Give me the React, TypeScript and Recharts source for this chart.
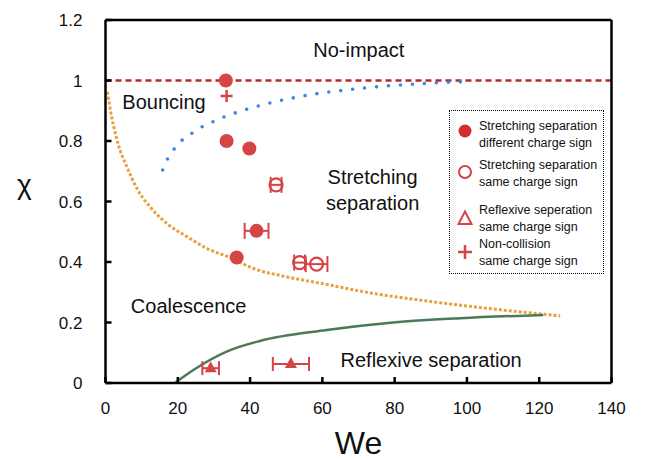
import React from "react";
import { ComposedChart, Line, Scatter, XAxis, YAxis, ErrorBar, ReferenceDot } from "recharts";

// axis ticks
const xTicks = [0, 20, 40, 60, 80, 100, 120, 140];
const yTicks = [0, 0.2, 0.4, 0.6, 0.8, 1, 1.2];

// boundary curves (We, chi)
const noImpactLine = [
  { we: 0, chi: 1 },
  { we: 140, chi: 1 },
];
const bouncingBoundary = [
  { we: 15.8, chi: 0.704 }, { we: 17.1, chi: 0.739 }, { we: 19.1, chi: 0.775 },
  { we: 21.5, chi: 0.806 }, { we: 24.5, chi: 0.83 }, { we: 27.5, chi: 0.852 },
  { we: 30.8, chi: 0.869 }, { we: 34, chi: 0.885 }, { we: 37.2, chi: 0.898 },
  { we: 43.9, chi: 0.921 }, { we: 50.9, chi: 0.94 }, { we: 57.7, chi: 0.955 },
  { we: 64.7, chi: 0.966 }, { we: 71.6, chi: 0.975 }, { we: 78.7, chi: 0.983 },
  { we: 85.6, chi: 0.988 }, { we: 92.6, chi: 0.993 }, { we: 99.5, chi: 0.996 },
];
const coalescenceBoundary = [
  { we: 0.5, chi: 0.963 }, { we: 1.7, chi: 0.88 }, { we: 3.5, chi: 0.79 },
  { we: 5.9, chi: 0.715 }, { we: 8.6, chi: 0.645 }, { we: 12.3, chi: 0.583 },
  { we: 16.9, chi: 0.528 }, { we: 22.5, chi: 0.484 }, { we: 28.9, chi: 0.44 },
  { we: 34, chi: 0.417 }, { we: 40.9, chi: 0.379 }, { we: 50.1, chi: 0.351 },
  { we: 59.4, chi: 0.33 }, { we: 73.2, chi: 0.298 }, { we: 87, chi: 0.274 },
  { we: 105.5, chi: 0.247 }, { we: 125.8, chi: 0.222 },
];
const reflexiveBoundary = [
  { we: 19.2, chi: 0 }, { we: 24.3, chi: 0.043 }, { we: 33.5, chi: 0.104 },
  { we: 42.7, chi: 0.139 }, { we: 61.2, chi: 0.175 }, { we: 79.6, chi: 0.2 },
  { we: 98.1, chi: 0.214 }, { we: 121.1, chi: 0.225 },
];

// measurements (err = horizontal error on We)
const stretchDiffSign = [
  { we: 33.3, chi: 1.0 },
  { we: 33.5, chi: 0.8 },
  { we: 39.8, chi: 0.775 },
  { we: 36.3, chi: 0.415 },
];
const stretchDiffSignErr = [{ we: 41.8, chi: 0.503, err: 3.3 }];
const stretchSameSign = [
  { we: 47.2, chi: 0.655, err: 1.5 },
  { we: 53.7, chi: 0.398, err: 1.5 },
  { we: 58.4, chi: 0.393, err: 3.0 },
];
const reflexiveSameSign = [
  { we: 29.1, chi: 0.049, err: 2.3 },
  { we: 51.3, chi: 0.063, err: 5.0 },
];
const nonCollision = [{ we: 33.5, chi: 0.949 }];

// region names
const regions = [
  { text: "No-impact", we: 70.1, chi: 1.1 },
  { text: "Bouncing", we: 16.2, chi: 0.93 },
  { text: "Stretching", we: 73.9, chi: 0.681 },
  { text: "separation", we: 73.9, chi: 0.595 },
  { text: "Coalescence", we: 23, chi: 0.255 },
  { text: "Reflexive separation", we: 90.1, chi: 0.076 },
];

const legendItems = [
  { marker: "filled", lines: ["Stretching separation", "different charge sign"] },
  { marker: "open", lines: ["Stretching separation", "same charge sign"] },
  { marker: "triangle", lines: ["Reflexive seperation", "same charge sign"] },
  { marker: "cross", lines: ["Non-collision", "same charge sign"] },
];

const RED = "#d64545";
const FONT = "'Liberation Sans', Arial, Helvetica, sans-serif";
const axisStyle = { stroke: "#000", strokeWidth: 2.5 };

const FilledDot = (p: any) => <circle cx={p.cx} cy={p.cy} r={7} fill={RED} />;
const OpenDot = (p: any) => (
  <circle cx={p.cx} cy={p.cy} r={6.5} fill="none" stroke={RED} strokeWidth={2.2} />
);
const Tri = (p: any) => (
  <polygon
    points={`${p.cx},${p.cy - 7} ${p.cx - 6},${p.cy + 4} ${p.cx + 6},${p.cy + 4}`}
    fill={RED}
  />
);
const Cross = (p: any) => (
  <g stroke={RED} strokeWidth={2.5}>
    <line x1={p.cx - 6} y1={p.cy} x2={p.cx + 6} y2={p.cy} />
    <line x1={p.cx} y1={p.cy - 6} x2={p.cx} y2={p.cy + 6} />
  </g>
);

const LegendMarker = ({ kind }: { kind: string }) => (
  <svg width={18} height={18} style={{ display: "block" }}>
    {kind === "filled" && <circle cx={9} cy={9} r={6.5} fill="#d02e2e" />}
    {kind === "open" && <circle cx={9} cy={9} r={6} fill="none" stroke={RED} strokeWidth={2} />}
    {kind === "triangle" && (
      <polygon points="9,2.5 2.5,15 15.5,15" fill="none" stroke={RED} strokeWidth={2} />
    )}
    {kind === "cross" && (
      <g stroke={RED} strokeWidth={2.5}>
        <line x1={2} y1={9} x2={16} y2={9} />
        <line x1={9} y1={2} x2={9} y2={16} />
      </g>
    )}
  </svg>
);

const legendRows = [
  { textTop: 7, markerY: 20 },
  { textTop: 46, markerY: 61 },
  { textTop: 91, markerY: 107 },
  { textTop: 125, markerY: 141 },
];

export default function App() {
  return (
    <div style={{ position: "relative", width: 645, height: 460, background: "#fff", fontFamily: FONT }}>
      <ComposedChart width={645} height={460} margin={{ top: 10, right: 39.5, bottom: 0, left: 0 }}>
        <XAxis
          dataKey="we"
          type="number"
          domain={[0, 140]}
          ticks={xTicks}
          allowDataOverflow
          height={85}
          tickSize={-6}
          tickMargin={25}
          axisLine={axisStyle}
          tickLine={axisStyle}
          tick={{ fill: "#111", fontSize: 17, fontFamily: FONT }}
          label={{ value: "We", position: "insideBottom", offset: 14, fontSize: 32, fill: "#111", fontFamily: FONT }}
        />
        <XAxis
          xAxisId="top"
          orientation="top"
          type="number"
          domain={[0, 140]}
          ticks={xTicks}
          height={2}
          tickSize={-6}
          tick={false}
          axisLine={axisStyle}
          tickLine={axisStyle}
        />
        <YAxis
          dataKey="chi"
          type="number"
          domain={[0, 1.2]}
          ticks={yTicks}
          allowDataOverflow
          width={97.5}
          tickSize={-6}
          tickMargin={29}
          tickFormatter={(v) => String(v)}
          axisLine={axisStyle}
          tickLine={axisStyle}
          tick={{ fill: "#111", fontSize: 17, fontFamily: FONT }}
          label={{ value: "χ", position: "insideLeft", offset: 9, dy: -17, fontSize: 28, fill: "#111", fontFamily: FONT }}
        />
        <YAxis
          yAxisId="right"
          orientation="right"
          type="number"
          domain={[0, 1.2]}
          ticks={yTicks}
          width={2}
          tickSize={-6}
          tick={false}
          axisLine={axisStyle}
          tickLine={axisStyle}
        />

        <Line data={noImpactLine} dataKey="chi" type="linear" stroke="#b5282d" strokeWidth={2.5}
          strokeDasharray="6 4" dot={false} activeDot={false} isAnimationActive={false} />
        <Line data={bouncingBoundary} dataKey="chi" type="monotone" stroke="#3a87e2" strokeWidth={3.6}
          strokeDasharray="0 12" strokeLinecap="round" dot={false} activeDot={false} isAnimationActive={false} />
        <Line data={coalescenceBoundary} dataKey="chi" type="monotone" stroke="#eaa040" strokeWidth={3}
          strokeDasharray="3 2" dot={false} activeDot={false} isAnimationActive={false} />
        <Line data={reflexiveBoundary} dataKey="chi" type="monotone" stroke="#4a7a57" strokeWidth={2.5}
          dot={false} activeDot={false} isAnimationActive={false} />

        {regions.map((r) => (
          <ReferenceDot key={r.text} x={r.we} y={r.chi} r={0} stroke="none" fill="none"
            label={{ value: r.text, position: "center", fontSize: 20, fill: "#111", fontFamily: FONT }} />
        ))}

        <Scatter data={stretchDiffSign} shape={FilledDot} isAnimationActive={false} />
        <Scatter data={stretchDiffSignErr} shape={FilledDot} isAnimationActive={false}>
          <ErrorBar dataKey="err" direction="x" width={8} stroke={RED} strokeWidth={2} />
        </Scatter>
        <Scatter data={stretchSameSign} shape={OpenDot} isAnimationActive={false}>
          <ErrorBar dataKey="err" direction="x" width={8} stroke={RED} strokeWidth={2} />
        </Scatter>
        <Scatter data={reflexiveSameSign} shape={Tri} isAnimationActive={false}>
          <ErrorBar dataKey="err" direction="x" width={7} stroke={RED} strokeWidth={2} />
        </Scatter>
        <Scatter data={nonCollision} shape={Cross} isAnimationActive={false} />
      </ComposedChart>

      <div
        style={{
          position: "absolute",
          left: 441,
          top: 102,
          width: 155,
          height: 164,
          border: "1.5px dotted #000",
          boxSizing: "border-box",
          background: "#fff",
          fontSize: 12.5,
          color: "#111",
        }}
      >
        {legendItems.map((item, i) => (
          <React.Fragment key={i}>
            <div style={{ position: "absolute", left: 6, top: legendRows[i].markerY - 9 }}>
              <LegendMarker kind={item.marker} />
            </div>
            <div style={{ position: "absolute", left: 29, top: legendRows[i].textTop, lineHeight: "16.5px", whiteSpace: "nowrap" }}>
              {item.lines.map((l) => (
                <div key={l}>{l}</div>
              ))}
            </div>
          </React.Fragment>
        ))}
      </div>
    </div>
  );
}
